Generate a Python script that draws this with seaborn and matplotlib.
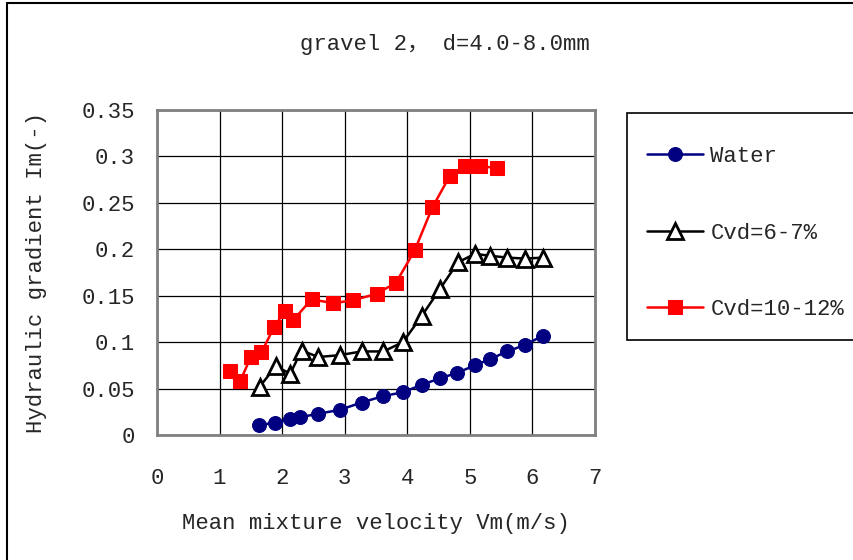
import numpy as np
import pandas as pd
import matplotlib.pyplot as plt
import seaborn as sns
from matplotlib.lines import Line2D
from matplotlib.patches import Rectangle

# values
water_v = [1.63, 1.89, 2.13, 2.28, 2.58, 2.92, 3.27, 3.62, 3.93, 4.23, 4.52, 4.80, 5.08, 5.33, 5.60, 5.88, 6.17]
water_im = [0.011, 0.013, 0.017, 0.019, 0.023, 0.027, 0.035, 0.042, 0.046, 0.054, 0.061, 0.067, 0.075, 0.082, 0.090, 0.097, 0.107]

cvd6_v = [1.64, 1.90, 2.13, 2.31, 2.58, 2.92, 3.27, 3.62, 3.93, 4.23, 4.52, 4.81, 5.08, 5.33, 5.60, 5.88, 6.17]
cvd6_im = [0.052, 0.074, 0.066, 0.091, 0.084, 0.086, 0.090, 0.090, 0.100, 0.128, 0.157, 0.186, 0.195, 0.193, 0.191, 0.190, 0.191]

cvd10_v = [1.16, 1.33, 1.50, 1.67, 1.87, 2.04, 2.18, 2.47, 2.82, 3.13, 3.51, 3.82, 4.12, 4.40, 4.68, 4.92, 5.17, 5.43]
cvd10_im = [0.069, 0.058, 0.084, 0.089, 0.116, 0.133, 0.124, 0.146, 0.142, 0.145, 0.152, 0.164, 0.199, 0.245, 0.279, 0.290, 0.290, 0.287]

x_ticks = [0, 1, 2, 3, 4, 5, 6, 7]
y_ticks = [0, 0.05, 0.1, 0.15, 0.2, 0.25, 0.3, 0.35]
y_labels = ["0", "0.05", "0.1", "0.15", "0.2", "0.25", "0.3", "0.35"]

sns.set_style("white")
plt.rcParams["font.family"] = ["Liberation Mono", "Noto Sans CJK SC"]

fig = plt.figure(figsize=(8.54, 5.6), dpi=100)
ax = fig.add_axes([0.1838, 0.2232, 0.5129, 0.5804])

sns.lineplot(x=water_v, y=water_im, ax=ax, sort=False, color="#000080", lw=1.8,
             marker="o", markersize=10, markerfacecolor="#000080",
             markeredgecolor="#000080", label="Water")
sns.lineplot(x=cvd6_v, y=cvd6_im, ax=ax, sort=False, color="black", lw=1.8,
             marker="^", markersize=11, markerfacecolor="white",
             markeredgecolor="black", markeredgewidth=2, label="Cvd=6-7%")
sns.lineplot(x=cvd10_v, y=cvd10_im, ax=ax, sort=False, color="#FF0000", lw=1.8,
             marker="s", markersize=10, markerfacecolor="#FF0000",
             markeredgecolor="#FF0000", label="Cvd=10-12%")

ax.set_xlim(0, 7)
ax.set_ylim(0, 0.35)
ax.set_xticks(x_ticks)
ax.set_yticks(y_ticks)
ax.set_yticklabels(y_labels)
ax.grid(True, color="black", lw=0.9)
ax.set_axisbelow(True)
for s in ax.spines.values():
    s.set_color("#808080")
    s.set_linewidth(2)
ax.tick_params(axis="both", direction="in", length=7, color="#808080", labelsize=16)
ax.tick_params(axis="x", pad=24)
ax.tick_params(axis="y", pad=16)

ax.set_xlabel("Mean mixture velocity Vm(m/s)", fontsize=16, labelpad=17)
ax.set_ylabel("Hydraulic gradient Im(-)", fontsize=16, labelpad=25)
fig.text(0.521, 0.92, "gravel 2， d=4.0-8.0mm", fontsize=16, ha="center", va="center")

# legend box drawn separately so the entries can sit where the reference has them
ax.add_patch(Rectangle((627 / 854, 1 - 340 / 560), 240 / 854, 227 / 560,
                       transform=fig.transFigure, facecolor="white",
                       edgecolor="black", lw=1.2, zorder=3, clip_on=False))
leg = ax.legend(loc="upper left", bbox_to_anchor=(647 / 854, 1 - 146 / 560),
                bbox_transform=fig.transFigure, fontsize=16, frameon=False,
                labelspacing=2.5, borderpad=0, handlelength=2.5,
                handletextpad=0.35, borderaxespad=0)
leg.set_zorder(6)

# outer chart border
fig.add_artist(Line2D([7 / 854, 7 / 854], [0, 1 - 3 / 560], color="black", lw=1.5))
fig.add_artist(Line2D([7 / 854, 1], [1 - 3 / 560, 1 - 3 / 560], color="black", lw=1.5))

fig.savefig("out.png", dpi=100)
